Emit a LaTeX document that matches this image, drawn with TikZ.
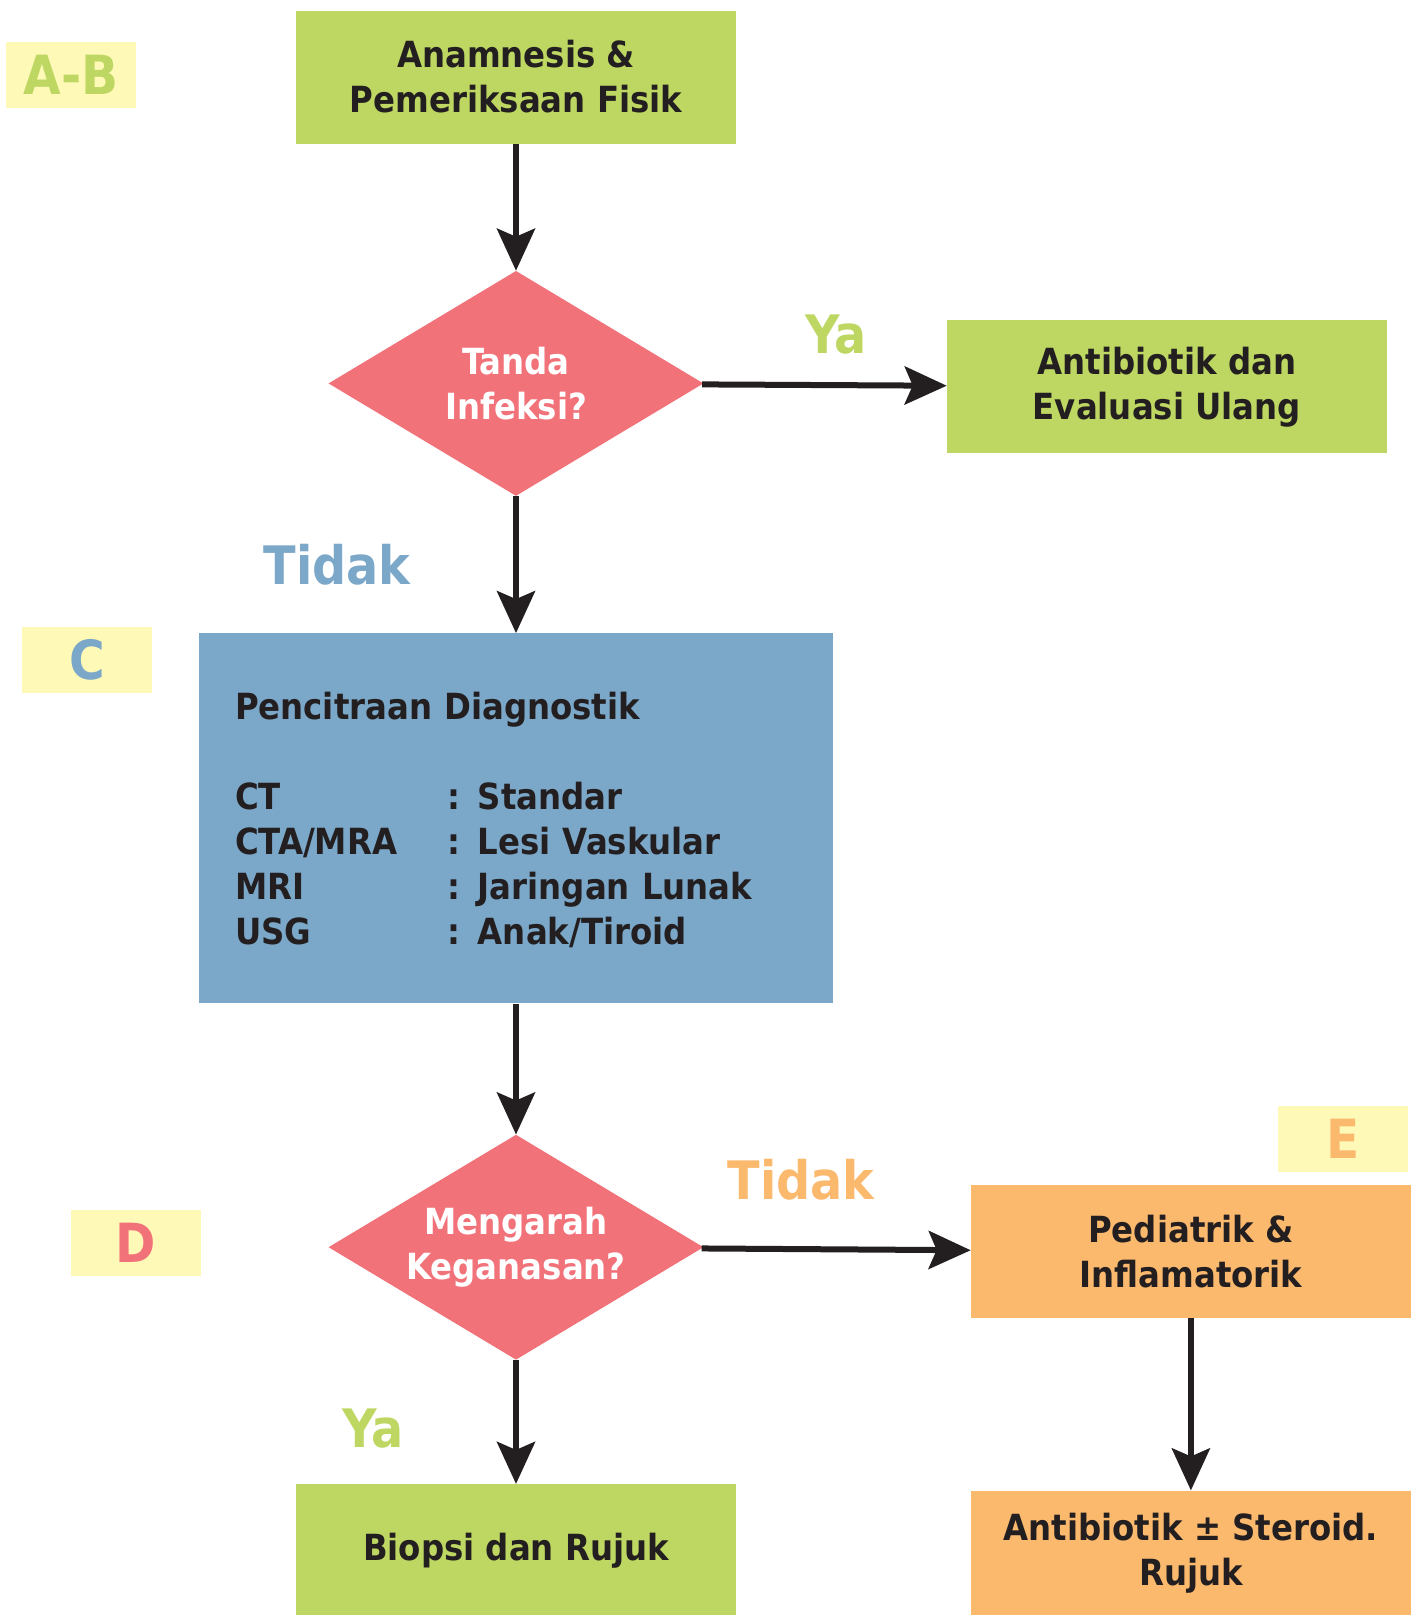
\documentclass[tikz,border=0pt]{standalone}
\usepackage{fontspec}
\setmainfont{DejaVu Sans Condensed}
\usetikzlibrary{arrows.meta, positioning, shapes.geometric}

\definecolor{boxgreen}{HTML}{BDD762}
\definecolor{boxblue}{HTML}{7BA7C8}
\definecolor{boxpink}{HTML}{F2727A}
\definecolor{boxorange}{HTML}{FBB96E}
\definecolor{tagyellow}{HTML}{FFF9B7}
\definecolor{inkdark}{HTML}{231F20}

\begin{document}
\begin{tikzpicture}[x=1pt, y=-1pt,
    box/.style={rectangle, inner sep=0pt, minimum width=440pt, minimum height=133pt,
        align=center, text=inkdark, font=\fontsize{36}{45}\selectfont\bfseries},
    decision/.style={diamond, aspect=1.667, fill=boxpink, inner sep=0pt, minimum width=375pt,
        minimum height=225pt, align=center, text=white, font=\fontsize{36}{45}\selectfont\bfseries},
    tag/.style={rectangle, fill=tagyellow, inner sep=0pt, minimum width=130pt,
        minimum height=66pt, font=\fontsize{54}{60}\selectfont\bfseries},
    branch/.style={inner sep=0pt, font=\fontsize{53}{60}\selectfont\bfseries},
    flow/.style={draw=inkdark, line width=6pt, -{Stealth[length=42pt, width=38pt, inset=8pt]}}]
    \useasboundingbox (0,0) rectangle (1416,1615);

    % main column
    \node (anam) [box, fill=boxgreen] at (516,77) {Anamnesis \&\\Pemeriksaan Fisik};
    \node (tanda) [decision, below=127pt of anam] {Tanda\\Infeksi?};
    \node (citra) [box, fill=boxblue, below=137pt of tanda, minimum width=634pt,
        minimum height=370pt, text width=562pt, inner xsep=36pt, align=left] {%
        \raisebox{-5pt}[\height][\depth]{\begin{tabular}{@{}p{212pt}@{}l@{}}
            \multicolumn{2}{@{}l@{}}{Pencitraan Diagnostik}\\
            & \\
            CT & : Standar\\
            CTA/MRA & : Lesi Vaskular\\
            MRI & : Jaringan Lunak\\
            USG & : Anak/Tiroid
        \end{tabular}}};
    \node (ganas) [decision, below=131pt of citra] {Mengarah\\Keganasan?};
    \node (biopsi) [box, fill=boxgreen, below=124pt of ganas] {Biopsi dan Rujuk};

    % right column
    \node (antib) [box, fill=boxgreen, right=243pt of tanda, yshift=-3.5pt] {Antibiotik dan\\Evaluasi Ulang};
    \node (pedia) [box, fill=boxorange, right=267pt of ganas, yshift=-4.5pt] {Pediatrik \&\\Inflamatorik};
    \node (steroid) [box, fill=boxorange, below=172pt of pedia, minimum height=126pt] {Antibiotik ± Steroid.\\Rujuk};

    % connectors
    \draw[flow] (anam) -- (tanda);
    \draw[flow] (tanda) -- (antib);
    \draw[flow] (tanda) -- (citra);
    \draw[flow] (citra) -- (ganas);
    \draw[flow] (ganas) -- (pedia);
    \draw[flow] (ganas) -- (biopsi);
    \draw[flow] (pedia) -- (steroid);

    % branch labels
    \node (yaatas) [branch, text=boxgreen] at (836,335) {Ya};
    \node (tidakatas) [branch, text=boxblue] at (337,565) {Tidak};
    \node (tidakbawah) [branch, text=boxorange] at (801,1180) {Tidak};
    \node (yabawah) [branch, text=boxgreen] at (373,1429) {Ya};

    % section tags
    \node (tagab) [tag, text=boxgreen] at (71,75) {A-B};
    \node (tagc) [tag, text=boxblue] at (87,660) {C};
    \node (tagd) [tag, text=boxpink] at (136,1243) {D};
    \node (tage) [tag, text=boxorange] at (1343,1139) {E};
\end{tikzpicture}
\end{document}
